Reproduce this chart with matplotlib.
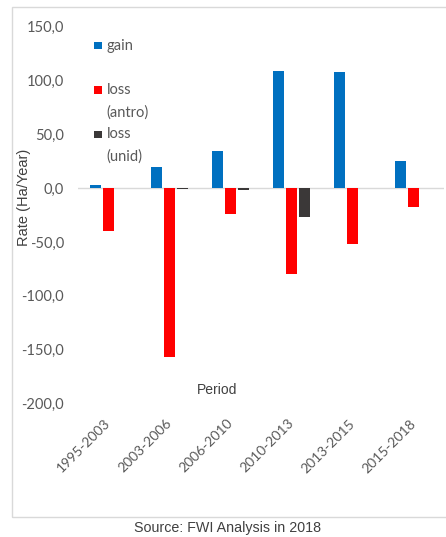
import numpy as np
import matplotlib
matplotlib.use('Agg')
import matplotlib.pyplot as plt
from matplotlib.patches import Rectangle
from matplotlib.legend_handler import HandlerPatch

plt.rcParams['font.family'] = ['Liberation Sans', 'DejaVu Sans']

periods = ['1995-2003', '2003-2006', '2006-2010', '2010-2013', '2013-2015', '2015-2018']
gain = [2.5, 20, 34.5, 109, 107.5, 25]
loss_antro = [-40, -157, -24, -80, -52, -17.5]
loss_unid = [0, -1, -2, -27, 0, 0]

yticks = [-200, -150, -100, -50, 0, 50, 100, 150]
ytick_labels = ['-200,0', '-150,0', '-100,0', '-50,0', '0,0', '50,0', '100,0', '150,0']

series_labels = ['gain\n ', 'loss\n(antro)', 'loss\n(unid)']
colors = ['#0070C0', '#FF0000', '#3B3838']

W, H = 446, 537
fig = plt.figure(figsize=(W / 100, H / 100), dpi=100)
ax = fig.add_axes([78 / W, 1 - 403.3 / H, 366 / W, 376.6 / H])

x = np.arange(len(periods))
width = 0.175
step = 0.218
bars = []
for i, (vals, col) in enumerate(zip([gain, loss_antro, loss_unid], colors)):
    b = ax.bar(x + (i - 1) * step, vals, width, color=col, label=series_labels[i], zorder=3)
    bars.append(b)

ax.axhline(0, color='#D9D9D9', lw=1, zorder=2)
ax.set_xlim(-0.5, len(periods) - 0.5)
ax.set_ylim(-200, 150)
for s in ax.spines.values():
    s.set_visible(False)

ax.set_yticks(yticks)
ax.set_yticklabels(ytick_labels, family=['Lato', 'DejaVu Sans'], fontsize=10.5, color='#595959')
ax.set_xticks(x)
ax.set_xticklabels(periods, rotation=45, ha='right', va='center', rotation_mode='anchor',
                   family=['Lato', 'DejaVu Sans'], fontsize=10, color='#595959')
ax.tick_params(axis='both', length=0)
ax.tick_params(axis='y', pad=10)
ax.tick_params(axis='x', pad=13)

ax.set_ylabel('Rate (Ha/Year)', fontsize=10.5, color='#404040', va='center',
              bbox=dict(facecolor='white', edgecolor='none', pad=0.5))
ax.yaxis.set_label_coords(-0.1475, 0.548)
ax.set_xlabel('Period', fontsize=10, color='#404040', va='center')
ax.xaxis.set_label_coords(0.379, 0.035)

fs = 10.5
line_shift = 7.9  # legend text is centred on its two lines; lift squares to the first


def square_first_line(legend, orig_handle, xdescent, ydescent, width, height, fontsize):
    return Rectangle((-xdescent, line_shift + 1.5), width, width)


def from_first_bar(handle, orig):
    handle.update_from(orig.patches[0])


handler = HandlerPatch(patch_func=square_first_line, update_func=from_first_bar)
leg = ax.legend(loc='upper left', bbox_to_anchor=(0.0445, 0.967), frameon=False,
                borderpad=0, borderaxespad=0, handlelength=0.5, handleheight=0.5,
                handletextpad=0.34, labelspacing=0.56,
                prop={'family': ['Lato', 'DejaVu Sans'], 'size': fs},
                handler_map={b: handler for b in bars})
for t in leg.get_texts():
    t.set_color('#595959')
    t.set_linespacing(1.7)

fig.patches.append(Rectangle((12 / W, 1 - 516.7 / H), 1, 509.4 / H, transform=fig.transFigure,
                             fill=False, edgecolor='#D9D9D9', lw=1))
fig.text(227.5 / W, 1 - 528 / H, 'Source: FWI Analysis in 2018', ha='center', va='center',
         fontsize=10.3, color='#404040')

fig.savefig('out.png', dpi=100)
